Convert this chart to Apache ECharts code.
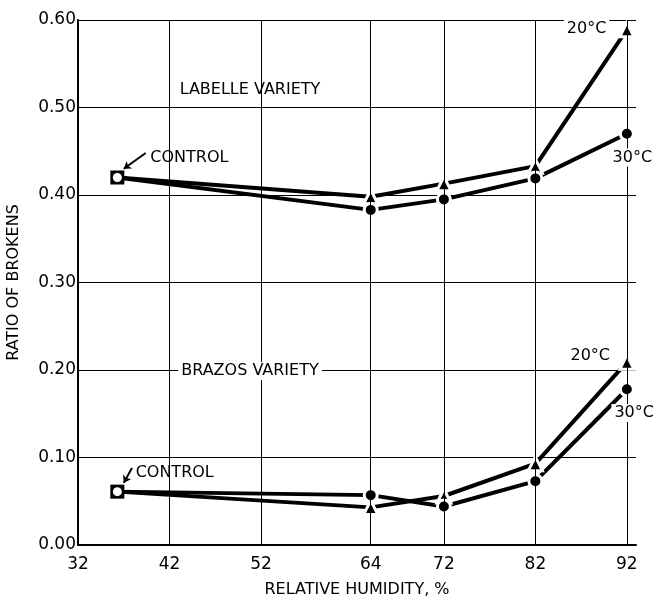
<!DOCTYPE html>
<html>
<head>
<meta charset="utf-8">
<script src="https://cdn.jsdelivr.net/npm/echarts@6/dist/echarts.min.js"></script>
<style>
  html, body { margin: 0; padding: 0; background: #fff; }
  #chart { width: 658px; height: 600px; }
</style>
</head>
<body>
<div id="chart"></div>
<script>
// relative humidity values where points were measured (first one is the control)
var humidity = [36.3, 64, 72, 82, 92]
var labelle20 = [0.42, 0.398, 0.413, 0.433, 0.589]
var labelle30 = [0.42, 0.383, 0.395, 0.419, 0.47]
var brazos20 = [0.061, 0.043, 0.056, 0.093, 0.209]
var brazos30 = [0.061, 0.057, 0.044, 0.073, 0.178]
var xTicks = [32, 42, 52, 64, 72, 82, 92]

// text notes, in data coordinates
var notes = [
  { text: 'LABELLE VARIETY', x: 50.8, y: 0.52, align: 'center', bg: false },
  { text: 'BRAZOS VARIETY', x: 50.8, y: 0.199, align: 'center', bg: true },
  { text: 'CONTROL', x: 39.9, y: 0.443, align: 'left', bg: false },
  { text: 'CONTROL', x: 38.3, y: 0.083, align: 'left', bg: false },
  { text: '20°C', x: 87.6, y: 0.59, align: 'center', bg: true },
  { text: '30°C', x: 92.6, y: 0.443, align: 'center', bg: true },
  { text: '20°C', x: 88.0, y: 0.216, align: 'center', bg: true },
  { text: '30°C', x: 92.8, y: 0.151, align: 'center', bg: true }
]
// control arrows: from note to control point
var arrows = [
  [[39.4, 0.448], [37.0, 0.43]],
  [[37.9, 0.088], [37.0, 0.071]]
]

var font = 'DejaVu Sans'

function pairs (vals, sym) {
  var out = []
  for (var i = 0; i < humidity.length; i++) {
    if (i === 0) out.push({ value: [humidity[i], vals[i]], symbol: 'none' })
    else out.push({ value: [humidity[i], vals[i]], symbol: sym })
  }
  return out
}

function lineSeries (name, vals, sym) {
  return {
    name: name,
    type: 'line',
    data: pairs(vals, sym),
    symbolSize: sym === 'triangle' ? 14 : 13,
    lineStyle: { color: '#000', width: 4 },
    itemStyle: { color: '#000', borderColor: '#fff', borderWidth: 3 },
    z: 3
  }
}

var myChart = echarts.init(document.getElementById('chart'))

var noteData = notes.map(function (n) {
  return {
    coord: [n.x, n.y],
    label: {
      show: true,
      formatter: n.text,
      align: n.align,
      verticalAlign: 'middle',
      position: 'inside',
      color: '#000',
      fontFamily: font,
      fontSize: 16,
      backgroundColor: n.bg ? '#fff' : 'transparent',
      padding: n.bg ? [1, 3] : 0
    }
  }
})

var option = {
  animation: false,
  grid: { left: 78, right: 22, top: 20, bottom: 55, outerBoundsMode: 'none', containLabel: false },
  xAxis: {
    type: 'value',
    min: 32,
    max: 93,
    interval: 1,
    name: 'RELATIVE HUMIDITY, %',
    nameLocation: 'middle',
    nameGap: 37,
    nameTextStyle: { color: '#000', fontFamily: font, fontSize: 16 },
    axisLine: { lineStyle: { color: '#000', width: 2 } },
    axisTick: { show: false },
    splitLine: { show: false },
    axisLabel: {
      color: '#000',
      fontFamily: font,
      fontSize: 17,
      margin: 11,
      formatter: function (v) {
        return xTicks.indexOf(v) >= 0 ? String(v) : ''
      }
    }
  },
  yAxis: {
    type: 'value',
    min: 0,
    max: 0.6,
    interval: 0.1,
    name: 'RATIO OF BROKENS',
    nameLocation: 'middle',
    nameGap: 56,
    nameTextStyle: { color: '#000', fontFamily: font, fontSize: 16 },
    axisLine: { show: true, lineStyle: { color: '#000', width: 2 } },
    axisTick: { show: false },
    splitLine: { lineStyle: { color: '#000', width: 1 } },
    axisLabel: {
      color: '#000',
      fontFamily: font,
      fontSize: 17,
      margin: 2,
      formatter: function (v) { return v.toFixed(2) }
    }
  },
  series: [
    lineSeries('Labelle 20°C', labelle20, 'triangle'),
    lineSeries('Labelle 30°C', labelle30, 'circle'),
    lineSeries('Brazos 20°C', brazos20, 'triangle'),
    lineSeries('Brazos 30°C', brazos30, 'circle'),
    {
      // control points: black square with white hole
      type: 'scatter',
      data: [[humidity[0], labelle20[0]], [humidity[0], brazos20[0]]],
      symbol: 'rect',
      symbolSize: 14,
      itemStyle: { color: '#000', opacity: 1 },
      z: 5
    },
    {
      type: 'scatter',
      data: [[humidity[0], labelle20[0]], [humidity[0], brazos20[0]]],
      symbol: 'circle',
      symbolSize: 9,
      itemStyle: { color: '#fff', opacity: 1 },
      z: 6
    },
    {
      // vertical grid lines + notes
      type: 'line',
      data: [],
      markLine: {
        silent: true,
        symbol: 'none',
        label: { show: false },
        lineStyle: { color: '#000', width: 1, type: 'solid' },
        data: xTicks.slice(1).map(function (t) { return { xAxis: t } })
      },
      markPoint: {
        silent: true,
        symbol: 'circle',
        symbolSize: 1,
        itemStyle: { color: 'transparent' },
        data: noteData
      },
      z: 1
    },
    {
      type: 'line',
      data: [],
      markLine: {
        silent: true,
        symbol: ['none', 'arrow'],
        symbolSize: 7,
        label: { show: false },
        lineStyle: { color: '#000', width: 2, type: 'solid', curveness: 0.35 },
        data: arrows.map(function (a) {
          return [{ coord: a[0] }, { coord: a[1] }]
        })
      },
      z: 4
    }
  ]
}

myChart.setOption(option)
</script>
</body>
</html>
